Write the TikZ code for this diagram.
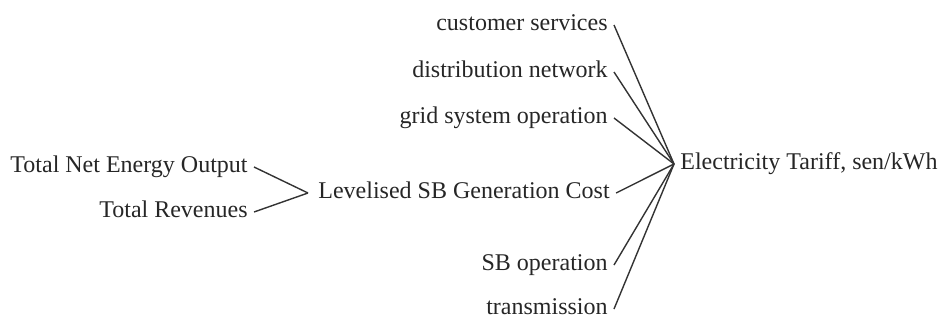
\documentclass[tikz,border=0pt]{standalone}
\usepackage{fontspec}
\setmainfont{Liberation Serif}
\usepackage{tikz}
\usetikzlibrary{positioning}

\begin{document}
\begin{tikzpicture}[x=0.5pt, y=-0.5pt,
    var/.style={inner xsep=3pt, inner ysep=0pt, text height=8pt, text depth=2.5pt,
        text=black!85, font=\fontsize{12}{14}\selectfont},
    link/.style={line width=0.7pt, black!80}]
    \useasboundingbox (0,0) rectangle (941,322);
    % causes of the tariff
    \node[var, anchor=east] (cust) at (614,25) {customer services};
    \node[var, anchor=east] (dist) at (614,72) {distribution network};
    \node[var, anchor=east] (grid) at (614,118) {grid system operation};
    \node[var, anchor=east] (sbop) at (614,265) {SB operation};
    \node[var, anchor=east] (trans) at (614,309) {transmission};
    \node[var, anchor=west] (cost) at (312,193) {Levelised SB Generation Cost};
    \node[var, anchor=west] (tariff) at (674,164) {Electricity Tariff, sen/kWh};
    % causes of the generation cost
    \node[var, anchor=east] (energy) at (254,167) {Total Net Energy Output};
    \node[var, anchor=east] (rev) at (254,212) {Total Revenues};
    \draw[link] (energy.east) -- ([xshift=-2pt]cost.west);
    \draw[link] (rev.east) -- ([xshift=-2pt]cost.west);
    \draw[link] (cust.east) -- (tariff.west);
    \draw[link] (dist.east) -- (tariff.west);
    \draw[link] (grid.east) -- (tariff.west);
    \draw[link] (cost.east) -- (tariff.west);
    \draw[link] (sbop.east) -- (tariff.west);
    \draw[link] (trans.east) -- (tariff.west);
\end{tikzpicture}
\end{document}
